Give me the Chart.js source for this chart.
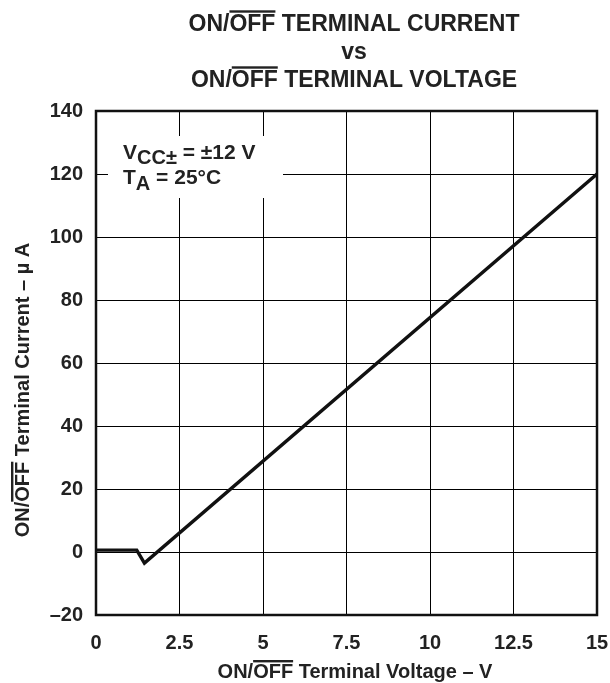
<!DOCTYPE html>
<html>
<head>
<meta charset="utf-8">
<script src="https://cdn.jsdelivr.net/npm/chart.js@4"></script>
<style>
  html, body { margin: 0; padding: 0; background: #fff; }
  #wrap { width: 610px; height: 683px; }
</style>
</head>
<body>
<div id="wrap"><canvas id="myChart" width="610" height="683"></canvas></div>
<script>
// Data
const voltage = [0, 1.22, 1.45, 15];
const current = [0.6, 0.6, -3.5, 120];

// Axis ticks
const xTicks = [0, 2.5, 5, 7.5, 10, 12.5, 15];
const yTicks = [-20, 0, 20, 40, 60, 80, 100, 120, 140];

const FONT = "'Liberation Sans', Arial, sans-serif";

// draw text with an overline over one part of it
const drawOverlined = (ctx, parts, cx, y, size) => {
  ctx.font = "bold " + size + "px " + FONT;
  let total = 0;
  parts.forEach(p => total += ctx.measureText(p.t).width);
  let x = cx - total / 2;
  ctx.textAlign = "left";
  ctx.textBaseline = "alphabetic";
  parts.forEach(p => {
    const w = ctx.measureText(p.t).width;
    ctx.fillText(p.t, x, y);
    if (p.over) {
      ctx.fillRect(x, y - size * 0.9, w, 2.4);
    }
    x += w;
  });
};

const decorations = {
  id: "decorations",
  beforeDatasetsDraw(chart) {
    const ctx = chart.ctx;
    // white box behind conditions text
    ctx.save();
    ctx.fillStyle = "#fff";
    ctx.fillRect(108, 136, 175, 62);
    ctx.fillStyle = "#222";
    ctx.textBaseline = "alphabetic";
    ctx.textAlign = "left";
    let x = 123;
    ctx.font = "bold 21px " + FONT;
    ctx.fillText("V", x, 159);
    x += ctx.measureText("V").width;
    ctx.font = "bold 20px " + FONT;
    ctx.fillText("CC\u00b1", x, 164);
    x += ctx.measureText("CC\u00b1").width;
    ctx.font = "bold 21px " + FONT;
    ctx.fillText(" = \u00b112 V", x, 159);
    x = 123;
    ctx.fillText("T", x, 184);
    x += ctx.measureText("T").width;
    ctx.font = "bold 20px " + FONT;
    ctx.fillText("A", x, 190);
    x += ctx.measureText("A").width;
    ctx.font = "bold 21px " + FONT;
    ctx.fillText(" = 25\u00b0C", x, 184);
    ctx.restore();
  },
  afterDraw(chart) {
    const ctx = chart.ctx;
    const a = chart.chartArea;
    ctx.save();
    ctx.strokeStyle = "#111";
    ctx.lineWidth = 2.5;
    ctx.strokeRect(a.left, a.top, a.right - a.left, a.bottom - a.top);
    ctx.fillStyle = "#222";

    // title
    drawOverlined(ctx, [{t: "ON/"}, {t: "OFF", over: true}, {t: " TERMINAL CURRENT"}], 354, 31, 23);
    drawOverlined(ctx, [{t: "vs"}], 354, 59, 23);
    drawOverlined(ctx, [{t: "ON/"}, {t: "OFF", over: true}, {t: " TERMINAL VOLTAGE"}], 354, 87, 23);

    // x axis title
    drawOverlined(ctx, [{t: "ON/"}, {t: "OFF", over: true}, {t: " Terminal Voltage \u2013 V"}], 355, 678, 20);

    // y axis title
    ctx.translate(29, 390);
    ctx.rotate(-Math.PI / 2);
    drawOverlined(ctx, [{t: "ON/"}, {t: "OFF", over: true}, {t: " Terminal Current \u2013 \u00b5 A"}], 0, 0, 20);
    ctx.restore();
  }
};

const ctx = document.getElementById("myChart").getContext("2d");
const myChart = new Chart(ctx, {
  type: "line",
  data: {
    datasets: [{
      data: voltage.map((v, i) => ({x: v, y: current[i]})),
      borderColor: "#111",
      borderWidth: 3.4,
      pointRadius: 0,
      tension: 0,
      fill: false
    }]
  },
  options: {
    responsive: false,
    animation: false,
    events: [],
    layout: { padding: { top: 111, right: 13, left: 0, bottom: 0 } },
    plugins: { legend: { display: false }, tooltip: { enabled: false } },
    scales: {
      x: {
        type: "linear",
        min: 0,
        max: 15,
        afterBuildTicks: scale => { scale.ticks = xTicks.map(v => ({value: v})); },
        afterFit: scale => {
          scale.height = 68;
          scale.paddingLeft = 0;
          scale.paddingRight = 0;
        },
        grid: { color: "#000", lineWidth: 1, drawTicks: false },
        border: { display: false },
        ticks: {
          color: "#222",
          padding: 16,
          maxRotation: 0,
          autoSkip: false,
          font: { family: FONT, size: 20, weight: "bold" },
          callback: v => String(v)
        }
      },
      y: {
        type: "linear",
        min: -20,
        max: 140,
        afterBuildTicks: scale => { scale.ticks = yTicks.map(v => ({value: v})); },
        afterFit: scale => {
          scale.width = 96;
          scale.paddingTop = 0;
          scale.paddingBottom = 0;
        },
        grid: { color: "#000", lineWidth: 1, drawTicks: false },
        border: { display: false },
        ticks: {
          color: "#222",
          padding: 13,
          autoSkip: false,
          font: { family: FONT, size: 20, weight: "bold" },
          callback: v => String(v).replace("-", "\u2013")
        }
      }
    }
  },
  plugins: [decorations]
});
</script>
</body>
</html>
